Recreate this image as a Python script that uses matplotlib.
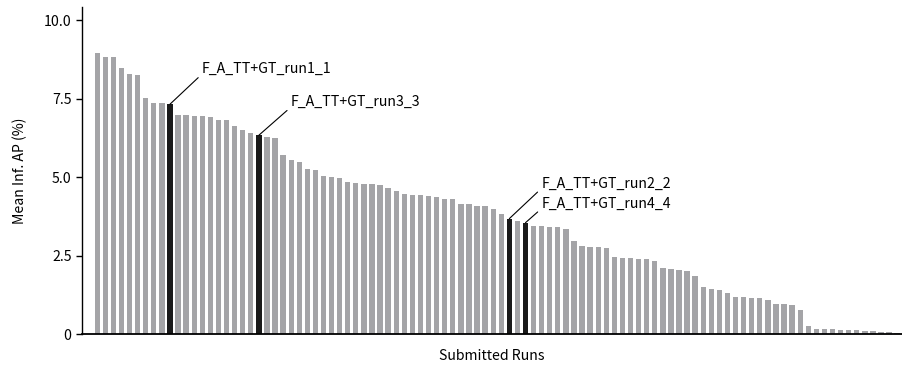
import matplotlib
matplotlib.use("Agg")
import matplotlib.pyplot as plt
import numpy as np

plt.rcParams['font.family'] = ['Noto Sans CJK JP', 'DejaVu Sans']

values = [8.97, 8.85, 8.85, 8.48, 8.28, 8.27, 7.53, 7.38, 7.36, 7.33,
          7.00, 7.00, 6.95, 6.94, 6.91, 6.83, 6.81, 6.63, 6.50, 6.40,
          6.34, 6.27, 6.24, 5.72, 5.56, 5.49, 5.25, 5.24, 5.05, 5.02,
          4.96, 4.84, 4.82, 4.77, 4.77, 4.74, 4.67, 4.56, 4.47, 4.44,
          4.43, 4.39, 4.36, 4.32, 4.31, 4.15, 4.14, 4.08, 4.08, 3.98,
          3.82, 3.68, 3.60, 3.55, 3.46, 3.43, 3.42, 3.41, 3.34, 2.97,
          2.81, 2.77, 2.76, 2.73, 2.46, 2.44, 2.42, 2.39, 2.38, 2.33,
          2.10, 2.07, 2.05, 2.01, 1.85, 1.49, 1.42, 1.40, 1.30, 1.18,
          1.17, 1.15, 1.15, 1.10, 0.96, 0.96, 0.94, 0.78, 0.24, 0.16,
          0.16, 0.15, 0.14, 0.12, 0.12, 0.10, 0.08, 0.06, 0.05, 0.04]

highlight_idx = [9, 20, 51, 53]
highlight_labels = ["F_A_TT+GT_run1_1", "F_A_TT+GT_run3_3",
                    "F_A_TT+GT_run2_2", "F_A_TT+GT_run4_4"]
label_offsets_px = [(32, 35), (32, 33), (32, 35), (16, 19)]

yticks = [0, 2.5, 5.0, 7.5, 10.0]
ytick_labels = ["0", "2.5", "5.0", "7.5", "10.0"]

gray = '#a4a4a7'
dark = '#1a1a1a'
fs = 10.2

fig = plt.figure(figsize=(9.02, 3.66), dpi=100)
ax = fig.add_axes([82/902, (366-334)/366, (902-82)/902, (334-7)/366])

x = np.arange(len(values))
colors = [dark if i in highlight_idx else gray for i in range(len(values))]
ax.bar(x, values, width=0.66, color=colors, linewidth=0)

ax.set_xlim(-1.89, 99.6)
ax.set_ylim(0, 10.43)
ax.set_yticks(yticks)
ax.set_yticklabels(ytick_labels)
ax.set_xticks([])
ax.tick_params(axis='y', direction='out', length=4.5, width=1, pad=3,
               labelsize=fs, colors='black')

for s in ['top', 'right']:
    ax.spines[s].set_visible(False)
ax.spines['left'].set_linewidth(1.0)
ax.spines['bottom'].set_linewidth(1.3)

ax.set_xlabel("Submitted Runs", fontsize=fs, labelpad=11)
ax.set_ylabel("Mean Inf. AP (%)", fontsize=fs, labelpad=12)

px2pt = 72 / 100
for idx, lab, (dx, dy) in zip(highlight_idx, highlight_labels, label_offsets_px):
    ax.annotate(lab, xy=(idx, values[idx]), xytext=(dx * px2pt, dy * px2pt),
                textcoords='offset points', ha='left', va='center', fontsize=fs,
                arrowprops=dict(arrowstyle='-', color='black', lw=0.8,
                                shrinkA=1, shrinkB=0, relpos=(0, 0.15)))

fig.savefig("out.png", dpi=100)
